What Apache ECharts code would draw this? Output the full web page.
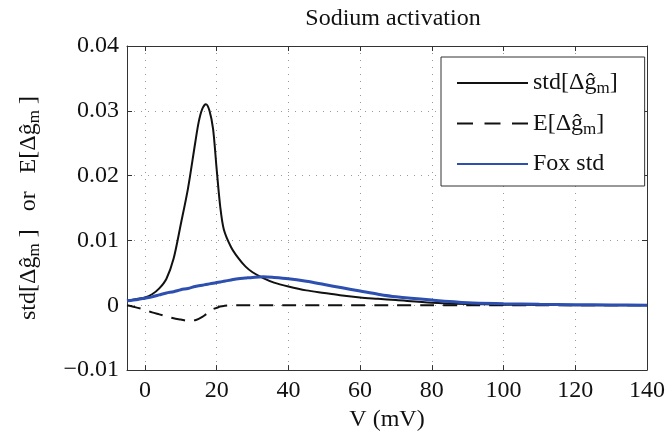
<!DOCTYPE html>
<html>
<head>
<meta charset="utf-8">
<script src="https://cdn.jsdelivr.net/npm/echarts@6/dist/echarts.min.js"></script>
<style>html,body{margin:0;padding:0;background:#fff}#c{width:670px;height:437px}</style>
</head>
<body>
<div id="c"></div>
<script>
// ---- data ----
const V = [-5, -2, 0, 2, 4, 6, 8, 10, 12, 14, 15, 16, 17, 18, 19, 20, 21, 22, 24, 26, 28, 30, 33, 36, 40, 45, 50, 55, 60, 65, 70, 80, 90, 100, 110, 120, 130, 140];
const stdG = [0.0007, 0.0010, 0.0012, 0.0017, 0.0026, 0.0041, 0.0072, 0.0125, 0.0180, 0.0250, 0.0283, 0.0303, 0.0310, 0.0300, 0.0272, 0.0210, 0.0152, 0.0117, 0.0090, 0.0073, 0.0060, 0.0051, 0.0042, 0.0035, 0.0029, 0.0023, 0.0019, 0.0015, 0.0012, 0.0010, 0.0008, 0.0004, 0.0002, 0.0001, 0.00005, 0.00002, 0.00001, 0];
const meanG = [0, -0.0004, -0.0007, -0.0011, -0.0014, -0.0017, -0.0020, -0.0022, -0.0024, -0.0023, -0.0021, -0.0018, -0.0014, -0.0010, -0.0006, -0.0004, -0.0002, -0.0001, 0, 0, 0, 0, 0, 0, 0, 0, 0, 0, 0, 0, 0, 0, 0, 0, 0, 0, 0, 0];
const foxStd = [0.0007, 0.0009, 0.0011, 0.0013, 0.0016, 0.0019, 0.0021, 0.0024, 0.0026, 0.0029, 0.0030, 0.0031, 0.0032, 0.0033, 0.0034, 0.0035, 0.0036, 0.0037, 0.0039, 0.0041, 0.0042, 0.0043, 0.0044, 0.0043, 0.0041, 0.0037, 0.0032, 0.0027, 0.0022, 0.0017, 0.0013, 0.0008, 0.0004, 0.00025, 0.00015, 0.0001, 0.00005, 0.00002];
const seriesNames = ['std', 'E', 'Fox std'];
const legendLabels = ['std[Δĝ{s|m}]', 'E[Δĝ{s|m}]', 'Fox std'];
const titleText = 'Sodium activation';
const xName = 'V (mV)';
const yName = 'std[Δĝ{s|m} ]   or   E[Δĝ{s|m} ]';

const FONT = 'Liberation Serif';
const pair = (ys) => V.map((v, i) => [v, ys[i]]);
const sub = { fontFamily: FONT, fontSize: 17, color: '#111', padding: [12, 0, 0, 0] };

const chart = echarts.init(document.getElementById('c'), null, { renderer: 'canvas' });
const axisCommon = {
  axisLine: { show: true, onZero: false, lineStyle: { color: '#333', width: 1 } },
  axisTick: { show: true, inside: true, length: 5, lineStyle: { color: '#333' } }
};
chart.setOption({
  animation: false,
  backgroundColor: '#fff',
  title: {
    text: titleText, left: 388, top: 2, textAlign: 'center',
    textStyle: { fontFamily: FONT, fontSize: 24, fontWeight: 'normal', color: '#111' }
  },
  grid: { left: 127, right: 23, top: 46, bottom: 63.5, containLabel: false },
  legend: {
    orient: 'vertical', left: 441, top: 57,
    data: [
      { name: seriesNames[0] },
      { name: seriesNames[1], lineStyle: { type: [16, 11.5] } },
      { name: seriesNames[2] }
    ],
    formatter: (n) => legendLabels[seriesNames.indexOf(n)],
    itemWidth: 71, itemHeight: 14, itemGap: 12,
    padding: [12, 27, 8, 15],
    borderColor: '#333', borderWidth: 1, backgroundColor: '#fff',
    itemStyle: { opacity: 0 },
    textStyle: { fontFamily: FONT, fontSize: 24, color: '#111', lineHeight: 28, rich: { s: sub } }
  },
  xAxis: [{
    type: 'value', min: -5, max: 140, splitNumber: 7,
    ...axisCommon,
    axisLabel: {
      fontFamily: FONT, fontSize: 24, color: '#111', margin: 9,
      formatter: (v) => (Math.abs(v % 20) < 1e-9 ? String(v) : '')
    },
    splitLine: { show: true, lineStyle: { color: '#999', type: [1, 6], width: 1 } },
    name: xName, nameLocation: 'middle', nameGap: 37,
    nameTextStyle: { fontFamily: FONT, fontSize: 24, color: '#111' }
  }, {
    type: 'value', min: -5, max: 140, splitNumber: 7, position: 'top',
    ...axisCommon, axisLabel: { show: false }, splitLine: { show: false }
  }],
  yAxis: [{
    type: 'value', min: -0.01, max: 0.04, interval: 0.01,
    ...axisCommon,
    axisLabel: {
      fontFamily: FONT, fontSize: 24, color: '#111', margin: 8,
      formatter: (v) => (Math.abs(v) < 1e-12 ? '0' : (v < 0 ? '\u2212' : '') + Math.abs(v).toFixed(2))
    },
    splitLine: { show: true, lineStyle: { color: '#999', type: [1, 6], width: 1 } },
    name: yName, nameLocation: 'middle', nameRotate: 90, nameGap: 84,
    nameTextStyle: { fontFamily: FONT, fontSize: 24, color: '#111', rich: { s: sub } }
  }, {
    type: 'value', min: -0.01, max: 0.04, interval: 0.01, position: 'right',
    ...axisCommon, axisLabel: { show: false }, splitLine: { show: false }
  }],
  series: [{
    name: seriesNames[0], type: 'line', data: pair(stdG), symbol: 'none',
    smooth: 0.3,
    lineStyle: { color: '#111', width: 2 }, itemStyle: { color: '#111' }
  }, {
    name: seriesNames[1], type: 'line', data: pair(meanG), symbol: 'none',
    smooth: 0.3,
    lineStyle: { color: '#111', width: 2, type: [14, 9] }, itemStyle: { color: '#111' }
  }, {
    name: seriesNames[2], type: 'line', data: pair(foxStd), symbol: 'none',
    smooth: 0.3,
    lineStyle: { color: '#2c4fb0', width: 3 }, itemStyle: { color: '#2c4fb0' }
  }]
});
</script>
</body>
</html>
